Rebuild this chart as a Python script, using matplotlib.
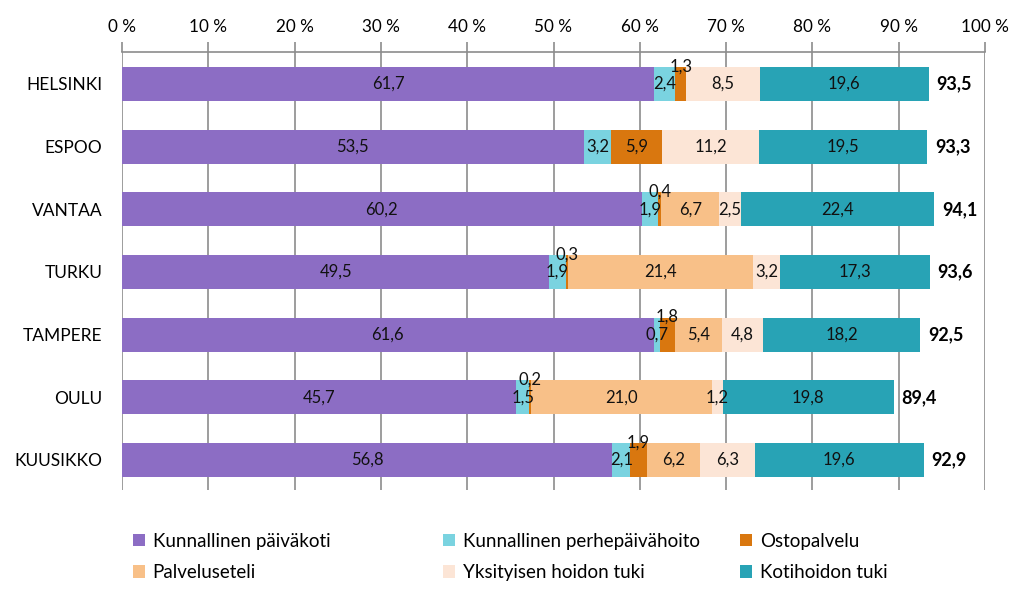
import matplotlib
matplotlib.use("Agg")
import matplotlib.pyplot as plt
import numpy as np

plt.rcParams['font.family'] = ['Lato', 'DejaVu Sans']

cities = ["HELSINKI", "ESPOO", "VANTAA", "TURKU", "TAMPERE", "OULU", "KUUSIKKO"]
series_names = ["Kunnallinen päiväkoti", "Kunnallinen perhepäivähoito", "Ostopalvelu",
                "Palveluseteli", "Yksityisen hoidon tuki", "Kotihoidon tuki"]
kunn_paivakoti = [61.7, 53.5, 60.2, 49.5, 61.6, 45.7, 56.8]
kunn_perhepaivahoito = [2.4, 3.2, 1.9, 1.9, 0.7, 1.5, 2.1]
ostopalvelu = [1.3, 5.9, 0.4, 0.3, 1.8, 0.2, 1.9]
palveluseteli = [0.0, 0.0, 6.7, 21.4, 5.4, 21.0, 6.2]
yksityisen_tuki = [8.5, 11.2, 2.5, 3.2, 4.8, 1.2, 6.3]
kotihoidon_tuki = [19.6, 19.5, 22.4, 17.3, 18.2, 19.8, 19.6]
totals = [93.5, 93.3, 94.1, 93.6, 92.5, 89.4, 92.9]
x_ticks = [0, 10, 20, 30, 40, 50, 60, 70, 80, 90, 100]

series = [kunn_paivakoti, kunn_perhepaivahoito, ostopalvelu, palveluseteli,
          yksityisen_tuki, kotihoidon_tuki]
colors = ["#8C6DC4", "#7AD3E0", "#D9770F", "#F8C088", "#FCE5D6", "#28A3B5"]

fig = plt.figure(figsize=(10.24, 5.99), dpi=100)
ax = fig.add_axes([122/1024, 1-490/599, (985-122)/1024, (490-52)/599])

y = np.arange(len(cities))
left = np.zeros(len(cities))
bar_h = 0.54
for si, (vals, col, name) in enumerate(zip(series, colors, series_names)):
    vals = np.array(vals)
    ax.barh(y, vals, left=left, height=bar_h, color=col, label=name, zorder=2)
    for i, v in enumerate(vals):
        if v <= 0:
            continue
        cx = left[i] + v / 2
        cy = y[i]
        if si == 2 and v < 2.0:
            cy = y[i] - 0.28
        ax.text(cx, cy, f"{v:.1f}".replace(".", ","), ha="center", va="center",
                fontsize=12, color="#111111", zorder=4)
    left = left + vals

for i, t in enumerate(totals):
    ax.text(left[i] + 0.9, y[i], f"{t:.1f}".replace(".", ","), ha="left", va="center",
            fontsize=13, fontweight="bold", color="black", zorder=4)

ax.set_xlim(0, 100)
ax.set_ylim(6.48, -0.51)
ax.set_yticks(y)
ax.set_yticklabels(cities, fontsize=12.5)
ax.set_xticks(x_ticks)
ax.set_xticklabels([f"{t} %" for t in x_ticks], fontsize=12.3)
ax.xaxis.tick_top()
ax.tick_params(axis="x", length=7, width=1.2, color="#8C8C8C", pad=5, direction="out")
ax.tick_params(axis="y", length=0, pad=14)
ax.grid(axis="x", color="#8C8C8C", linewidth=1.2, zorder=0)
ax.set_axisbelow(True)
for s in ["left", "right", "bottom"]:
    ax.spines[s].set_visible(False)
ax.spines["top"].set_color("#8C8C8C")
ax.spines["top"].set_linewidth(1.2)

handles, labels = ax.get_legend_handles_labels()
col_pos = [(133/1024, 0), (443/1024, 1), (740/1024, 2)]
for xpos, c in col_pos:
    hs = [handles[c], handles[c + 3]]
    ls = [labels[c], labels[c + 3]]
    fig.legend(hs, ls, loc="center left", bbox_to_anchor=(xpos, 1-557/599), frameon=False,
               fontsize=13.5, handlelength=0.65, handleheight=0.65, handletextpad=0.4,
               labelspacing=0.78, borderaxespad=0, borderpad=0)

fig.savefig("out.png", dpi=100)
